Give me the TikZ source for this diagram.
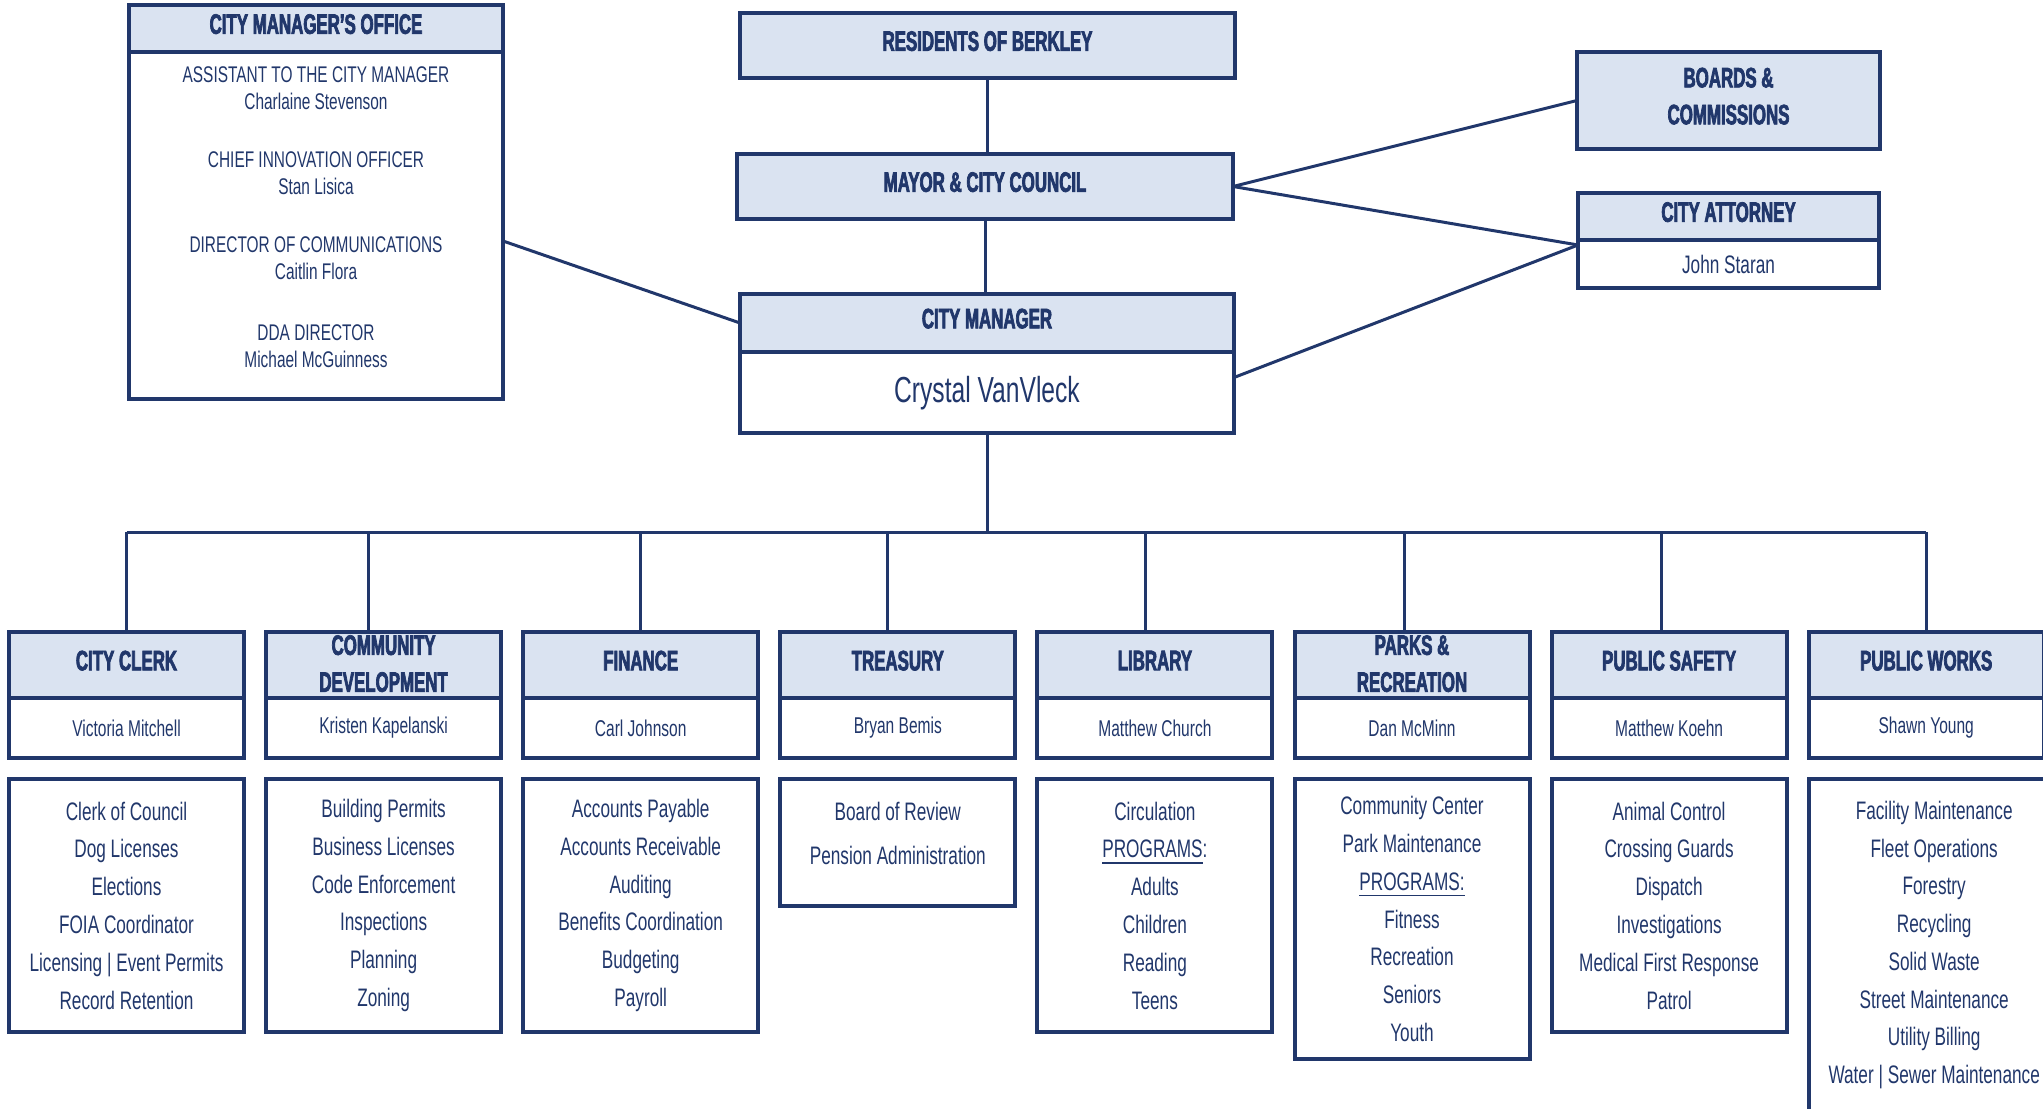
\documentclass[tikz,border=0pt]{standalone}
\usepackage{fontspec}
\setmainfont{Liberation Sans}[FakeStretch=0.68]
\newfontfamily\headfont{Liberation Sans}[FakeStretch=0.6, FakeBold=2.5]
\usetikzlibrary{positioning}

\definecolor{navy}{RGB}{33,55,107}
\definecolor{paleblue}{RGB}{218,227,241}

\tikzset{
  unitbox/.style={draw=navy, line width=0.4mm, outer sep=0pt, inner sep=0pt, text=navy, align=center},
  head/.style={unitbox, fill=paleblue, text depth=0.9mm, font=\headfont\bfseries\fontsize{8}{10.5}\selectfont},
  person/.style={unitbox, fill=white, font=\fontsize{6.5}{8}\selectfont},
  dept/.style={head, minimum width=23.5mm, minimum height=6.6mm},
  deptname/.style={person, minimum width=23.5mm, minimum height=6mm},
  duties/.style={unitbox, minimum width=23.5mm, font=\fontsize{7.2}{10.75}\selectfont},
  link/.style={draw=navy, line width=0.3mm},
}

\begin{document}
\begin{tikzpicture}[x=0.1mm, y=-0.1mm]
    \useasboundingbox (0,0) rectangle (2043,1108);

    % Council and manager
    \node[head, minimum width=49.5mm, minimum height=6.5mm] (residents) at (987.5,45.5) {RESIDENTS OF BERKLEY};
    \node[head, minimum width=49.6mm, minimum height=6.5mm] (mayor) at (985,186.5) {MAYOR \& CITY COUNCIL};
    \node[head, minimum width=49.4mm, minimum height=5.8mm] (cm) at (987,323) {CITY MANAGER};
    \node[person, minimum width=49.4mm, minimum height=8.1mm, text depth=0.6mm, font=\fontsize{10.3}{11}\selectfont] (cmname) [below=0pt of cm] {Crystal VanVleck};

    % Manager's office
    \node[head, minimum width=37.4mm, minimum height=4.7mm] (cmo) at (316,28.5) {CITY MANAGER’S OFFICE};
    \node[unitbox, minimum width=37.4mm, minimum height=34.7mm, text depth=1.7mm, font=\fontsize{6.45}{7.9}\selectfont] (cmostaff) [below=0pt of cmo]
        {ASSISTANT TO THE CITY MANAGER\\Charlaine Stevenson\\[8.4pt]
         CHIEF INNOVATION OFFICER\\Stan Lisica\\[8.4pt]
         DIRECTOR OF COMMUNICATIONS\\Caitlin Flora\\[9.2pt]
         DDA DIRECTOR\\Michael McGuinness};

    % Boards and attorney
    \node[head, minimum width=30.3mm, minimum height=9.7mm] (boards) at (1728.5,100.5) {BOARDS \&\\COMMISSIONS};
    \node[head, minimum width=30.1mm, minimum height=4.7mm] (attorney) at (1728.5,216.5) {CITY ATTORNEY};
    \node[person, minimum width=30.1mm, minimum height=4.8mm, font=\fontsize{7.2}{8}\selectfont] (attorneyname) [below=0pt of attorney] {John Staran};

    % Departments
    \begin{scope}[node distance=25.71mm, on grid]
        \node[dept] (clerk) at (126.5,665) {CITY CLERK};
        \node[dept, text depth=0.3mm] (commdev) [right=of clerk] {COMMUNITY\\DEVELOPMENT};
        \node[dept] (finance) [right=of commdev] {FINANCE};
        \node[dept] (treasury) [right=of finance] {TREASURY};
        \node[dept] (library) [right=of treasury] {LIBRARY};
        \node[dept, text depth=0.3mm] (parks) [right=of library] {PARKS \&\\RECREATION};
        \node[dept] (safety) [right=of parks] {PUBLIC SAFETY};
        \node[dept] (works) [right=of safety] {PUBLIC WORKS};
    \end{scope}

    \node[deptname] (clerkname) [below=0pt of clerk] {Victoria Mitchell};
    \node[deptname] (commdevname) [below=0pt of commdev] {Kristen Kapelanski};
    \node[deptname] (financename) [below=0pt of finance] {Carl Johnson};
    \node[deptname] (treasuryname) [below=0pt of treasury] {Bryan Bemis};
    \node[deptname] (libraryname) [below=0pt of library] {Matthew Church};
    \node[deptname] (parksname) [below=0pt of parks] {Dan McMinn};
    \node[deptname] (safetyname) [below=0pt of safety] {Matthew Koehn};
    \node[deptname] (worksname) [below=0pt of works] {Shawn Young};

    % Duties
    \node[duties, minimum height=25.3mm] (clerkduties) [below=2.1mm of clerkname]
        {Clerk of Council\\Dog Licenses\\Elections\\FOIA Coordinator\\Licensing | Event Permits\\Record Retention};
    \node[duties, minimum height=25.3mm] (commdevduties) [below=2.1mm of commdevname]
        {Building Permits\\Business Licenses\\Code Enforcement\\Inspections\\Planning\\Zoning};
    \node[duties, minimum height=25.3mm] (financeduties) [below=2.1mm of financename]
        {Accounts Payable\\Accounts Receivable\\Auditing\\Benefits Coordination\\Budgeting\\Payroll};
    \node[duties, minimum height=12.7mm, text depth=1.8mm, font=\fontsize{7.2}{12.6}\selectfont] (treasuryduties) [below=2.1mm of treasuryname]
        {Board of Review\\Pension Administration};
    \node[duties, minimum height=25.3mm] (libraryduties) [below=2.1mm of libraryname]
        {Circulation\\\underline{PROGRAMS}:\\Adults\\Children\\Reading\\Teens};
    \node[duties, minimum height=28mm] (parksduties) [below=2.1mm of parksname]
        {Community Center\\Park Maintenance\\\underline{PROGRAMS:}\\Fitness\\Recreation\\Seniors\\Youth};
    \node[duties, minimum height=25.3mm] (safetyduties) [below=2.1mm of safetyname]
        {Animal Control\\Crossing Guards\\Dispatch\\Investigations\\Medical First Response\\Patrol};
    \node[duties, minimum width=25mm, minimum height=33.2mm, xshift=0.8mm] (worksduties) [below=2.1mm of worksname]
        {Facility Maintenance\\Fleet Operations\\Forestry\\Recycling\\Solid Waste\\Street Maintenance\\Utility Billing\\Water | Sewer Maintenance};

    % Lines
    \coordinate (bus) at (987,532);
    \draw[link] (residents.south) -- (residents.south |- mayor.north);
    \draw[link] (mayor.south) -- (mayor.south |- cm.north);
    \draw[link] (cmname.south) -- (cmname.south |- bus);
    \draw[link] ([yshift=-1.55mm]cmostaff.east) -- (cm.west);
    \draw[link] (mayor.east) -- (boards.west);
    \draw[link] (mayor.east) -- ([yshift=-0.5mm]attorney.south west);
    \draw[link] ([yshift=1.5mm]cmname.east) -- ([yshift=-0.5mm]attorney.south west);
    \draw[link] (clerk.north |- bus) -- (works.north |- bus);
    \draw[link]
        (clerk.north) -- (clerk.north |- bus)
        ([xshift=-1.5mm]commdev.north) -- ([xshift=-1.5mm]commdev.north |- bus)
        (finance.north) -- (finance.north |- bus)
        ([xshift=-1mm]treasury.north) -- ([xshift=-1mm]treasury.north |- bus)
        ([xshift=-0.9mm]library.north) -- ([xshift=-0.9mm]library.north |- bus)
        ([xshift=-0.8mm]parks.north) -- ([xshift=-0.8mm]parks.north |- bus)
        ([xshift=-0.8mm]safety.north) -- ([xshift=-0.8mm]safety.north |- bus)
        (works.north) -- (works.north |- bus);
\end{tikzpicture}
\end{document}
